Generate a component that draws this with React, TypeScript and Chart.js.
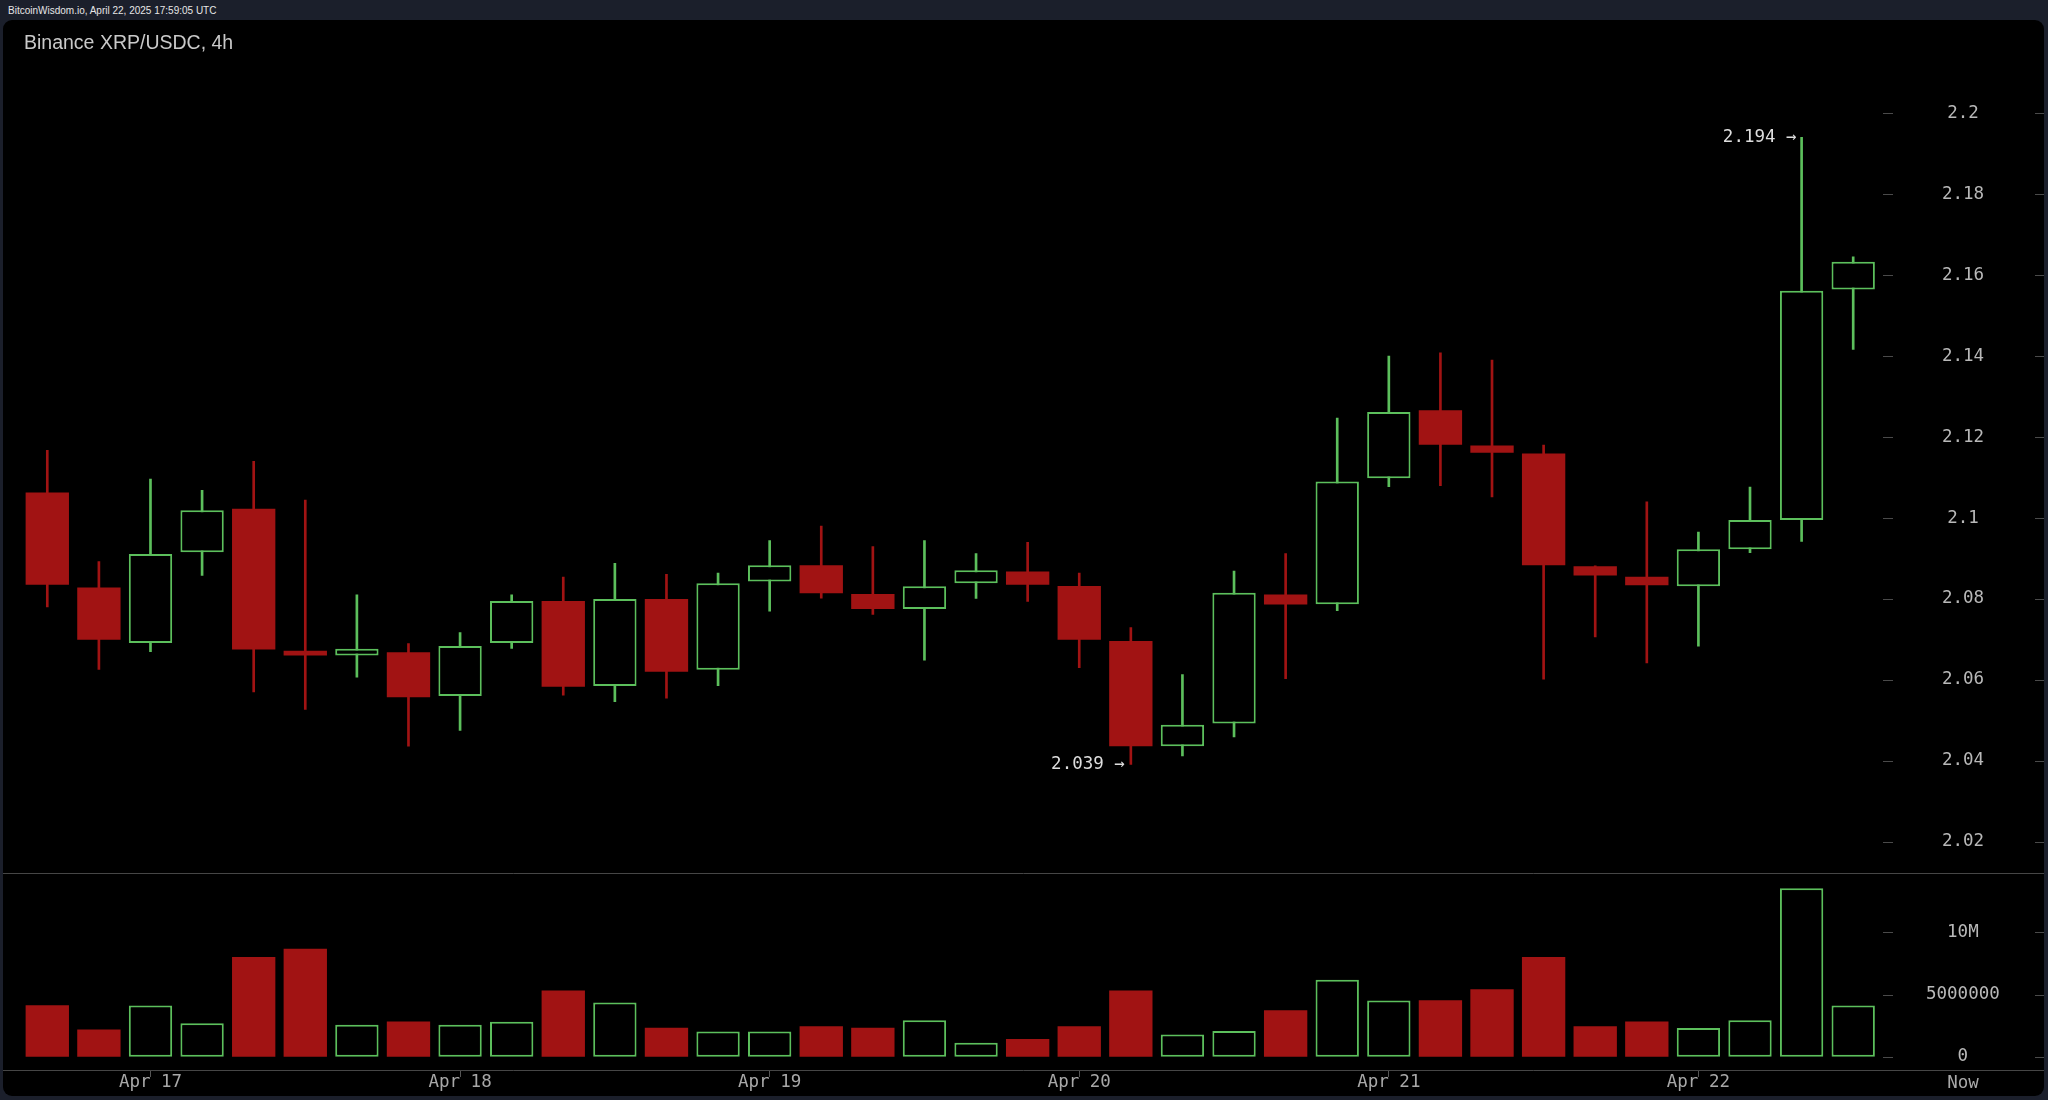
import { useEffect, useRef } from "react";
import { Chart, registerables } from "chart.js";

Chart.register(...registerables);

// 4h candles, Apr 16 16:00 .. Apr 22 16:00 (UTC)
const OPEN = [
  2.1063, 2.0828, 2.0691, 2.0915, 2.1023, 2.0672, 2.066, 2.0668, 2.056, 2.0691,
  2.0795, 2.0585, 2.08, 2.0625, 2.0843, 2.0883, 2.0812, 2.0775, 2.0839, 2.0868,
  2.0832, 2.0696, 2.0436, 2.0492, 2.0811, 2.0787, 2.1098, 2.1266, 2.1179, 2.1159,
  2.0881, 2.0855, 2.0831, 2.0923, 2.0995, 2.1564,
];
const HIGH = [
  2.1167, 2.0892, 2.1096, 2.1068, 2.114, 2.1044, 2.081, 2.069, 2.0717, 2.081,
  2.0854, 2.0888, 2.0861, 2.0864, 2.0944, 2.098, 2.0929, 2.0944, 2.0912, 2.094,
  2.0864, 2.0729, 2.0613, 2.0869, 2.0912, 2.1247, 2.14, 2.1408, 2.139, 2.118,
  2.0882, 2.104, 2.0965, 2.1076, 2.194, 2.1645,
];
const LOW = [
  2.078, 2.0626, 2.067, 2.0858, 2.057, 2.0527, 2.0607, 2.0436, 2.0475, 2.0678,
  2.0562, 2.0546, 2.0555, 2.0586, 2.077, 2.0802, 2.0762, 2.0649, 2.0801, 2.0794,
  2.063, 2.0391, 2.0412, 2.0459, 2.0603, 2.0771, 2.1077, 2.108, 2.1052, 2.0602,
  2.0706, 2.0642, 2.0683, 2.0914, 2.0942, 2.1416,
];
const CLOSE = [
  2.0835, 2.0699, 2.0911, 2.1019, 2.0675, 2.066, 2.0677, 2.0557, 2.0684, 2.0795,
  2.0583, 2.08, 2.062, 2.0839, 2.0883, 2.0814, 2.0775, 2.0831, 2.0871, 2.0835,
  2.0699, 2.0436, 2.0489, 2.0815, 2.0786, 2.109, 2.1262, 2.1181, 2.1161, 2.0883,
  2.0858, 2.0834, 2.0923, 2.0995, 2.1561, 2.1633,
];
const VOLUME = [
  4140000, 2190000, 4120000, 2700000, 8020000, 8690000, 2570000, 2830000, 2570000, 2810000,
  5320000, 4360000, 2330000, 2030000, 2030000, 2460000, 2330000, 2940000, 1120000, 1420000,
  2460000, 5320000, 1790000, 2060000, 3740000, 6200000, 4520000, 4550000, 5430000, 8020000,
  2460000, 2830000, 2300000, 2940000, 13560000, 4120000,
];

const PRICE_TICKS = [2.02, 2.04, 2.06, 2.08, 2.1, 2.12, 2.14, 2.16, 2.18, 2.2];
const PRICE_TICK_LABELS = ["2.02", "2.04", "2.06", "2.08", "2.1", "2.12", "2.14", "2.16", "2.18", "2.2"];
const VOLUME_TICKS = [0, 5000000, 10000000];
const VOLUME_TICK_LABELS = ["0", "5000000", "10M"];
const DAY_INDEX = [2, 8, 14, 20, 26, 32];
const DAY_LABELS = ["Apr 17", "Apr 18", "Apr 19", "Apr 20", "Apr 21", "Apr 22"];

const UP = "#5cbf5c";
const DOWN = "#a11313";
const MONO = "'DejaVu Sans Mono', monospace";
const SANS = "'Liberation Sans', Arial, sans-serif";

const PANEL_W = 2041;
const PRICE_H = 853;
const VOL_H = 223;
const AXIS_W = 165;
const PLOT_LEFT = 18.5;
const LABEL_CX = 84; // plot edge -> centre of the axis label column

const idx = OPEN.map((_, i) => i);
const up = idx.map((i) => CLOSE[i] >= OPEN[i]);
const colors = idx.map((i) => (up[i] ? UP : DOWN));

const axisDashes = {
  id: "axisDashes",
  afterDraw(chart: any) {
    const { ctx, chartArea, scales } = chart;
    const y = scales.y;
    ctx.save();
    ctx.strokeStyle = "#4a4a4a";
    ctx.lineWidth = 1;
    y.ticks.forEach((t: any) => {
      const py = Math.round(y.getPixelForValue(t.value)) + 0.5;
      ctx.beginPath();
      ctx.moveTo(chartArea.right + 4, py);
      ctx.lineTo(chartArea.right + 14, py);
      ctx.moveTo(chart.width - 9, py);
      ctx.lineTo(chart.width, py);
      ctx.stroke();
    });
    ctx.restore();
  },
};

const extremes = {
  id: "extremes",
  afterDatasetsDraw(chart: any) {
    const { ctx, scales } = chart;
    const hi = HIGH.indexOf(Math.max(...HIGH));
    const lo = LOW.indexOf(Math.min(...LOW));
    ctx.save();
    ctx.font = `17.5px ${MONO}`;
    ctx.fillStyle = "#dedede";
    ctx.textAlign = "right";
    ctx.textBaseline = "middle";
    ctx.fillText(`${HIGH[hi].toFixed(3)} →`, scales.x.getPixelForValue(hi) - 5, scales.y.getPixelForValue(HIGH[hi]));
    ctx.fillText(`${LOW[lo].toFixed(3)} →`, scales.x.getPixelForValue(lo) - 6, scales.y.getPixelForValue(LOW[lo]));
    ctx.restore();
  },
};

const volumeFrame = {
  id: "volumeFrame",
  afterDraw(chart: any) {
    const { ctx, chartArea } = chart;
    ctx.save();
    ctx.strokeStyle = "#464646";
    ctx.lineWidth = 1;
    ctx.beginPath();
    ctx.moveTo(0, 0.5);
    ctx.lineTo(chart.width, 0.5);
    const by = Math.round(chartArea.bottom) + 0.5;
    ctx.moveTo(0, by);
    ctx.lineTo(chart.width, by);
    ctx.stroke();
    ctx.font = `17.5px ${MONO}`;
    ctx.fillStyle = "#a8a8a8";
    ctx.textAlign = "center";
    ctx.textBaseline = "middle";
    ctx.fillText("Now", chartArea.right + LABEL_CX, chartArea.bottom + 13);
    ctx.restore();
  },
};

const fixY = (s: any) => {
  s.width = AXIS_W;
  s.paddingTop = 0;
  s.paddingBottom = 0;
};

export default function App() {
  const priceRef = useRef<HTMLCanvasElement>(null);
  const volRef = useRef<HTMLCanvasElement>(null);

  useEffect(() => {
    if (!priceRef.current || !volRef.current) return;

    const price = new Chart(priceRef.current, {
      type: "bar",
      data: {
        datasets: [
          {
            // wicks
            data: idx.map((i) => ({ x: i, y: [LOW[i], HIGH[i]] })) as any,
            backgroundColor: colors,
            borderWidth: 0,
            barThickness: 2,
            grouped: false,
            order: 2,
          },
          {
            // bodies
            data: idx.map((i) => ({ x: i, y: [OPEN[i], CLOSE[i]] })) as any,
            backgroundColor: idx.map((i) => (up[i] ? "#000" : DOWN)),
            borderColor: colors,
            borderWidth: idx.map((i) => (up[i] ? 2 : 0)),
            borderSkipped: false,
            categoryPercentage: 1,
            barPercentage: 0.84,
            grouped: false,
            order: 1,
          },
        ],
      },
      options: {
        responsive: false,
        animation: false,
        events: [],
        layout: { padding: { left: PLOT_LEFT, right: 0, top: 0, bottom: 0 } },
        plugins: { legend: { display: false }, tooltip: { enabled: false } },
        scales: {
          x: {
            type: "linear",
            min: -0.5,
            max: idx.length - 0.5,
            offset: false,
            grid: { offset: false },
            display: false,
          },
          y: {
            position: "right",
            min: 2.0123,
            max: 2.223,
            grid: { display: false, drawTicks: false },
            border: { display: false },
            afterBuildTicks: (s: any) => {
              s.ticks = PRICE_TICKS.map((v) => ({ value: v }));
            },
            afterFit: fixY,
            ticks: {
              crossAlign: "center",
              padding: 63,
              color: "#b8b8b8",
              font: { family: MONO, size: 17.5 },
              callback: (_v: any, i: number) => PRICE_TICK_LABELS[i],
            },
          },
        },
      },
      plugins: [axisDashes, extremes],
    });

    const volume = new Chart(volRef.current, {
      type: "bar",
      data: {
        datasets: [
          {
            data: idx.map((i) => ({ x: i, y: VOLUME[i] })) as any,
            backgroundColor: idx.map((i) => (up[i] ? "#000" : DOWN)),
            borderColor: colors,
            borderWidth: idx.map((i) => (up[i] ? 2 : 0)),
            borderSkipped: false,
            categoryPercentage: 1,
            barPercentage: 0.84,
          },
        ],
      },
      options: {
        responsive: false,
        animation: false,
        events: [],
        layout: { padding: { left: PLOT_LEFT, right: 0, top: 1, bottom: 0 } },
        plugins: { legend: { display: false }, tooltip: { enabled: false } },
        scales: {
          x: {
            type: "linear",
            min: -0.5,
            max: idx.length - 0.5,
            offset: false,
            grid: { offset: false, drawOnChartArea: false, tickLength: 7, color: "#555" },
            border: { display: false },
            afterBuildTicks: (s: any) => {
              s.ticks = DAY_INDEX.map((v) => ({ value: v }));
            },
            afterFit: (s: any) => {
              s.height = 26;
              s.paddingLeft = 0;
              s.paddingRight = 0;
            },
            ticks: {
              autoSkip: false,
              maxRotation: 0,
              padding: -3,
              color: "#a8a8a8",
              font: { family: MONO, size: 17.5, lineHeight: 1 },
              callback: (_v: any, i: number) => DAY_LABELS[i],
            },
          },
          y: {
            position: "right",
            min: -1070000,
            max: 14700000,
            grid: { display: false, drawTicks: false },
            border: { display: false },
            afterBuildTicks: (s: any) => {
              s.ticks = VOLUME_TICKS.map((v) => ({ value: v }));
            },
            afterFit: fixY,
            ticks: {
              crossAlign: "center",
              padding: 47,
              color: "#b8b8b8",
              font: { family: MONO, size: 17.5 },
              callback: (_v: any, i: number) => VOLUME_TICK_LABELS[i],
            },
          },
        },
      },
      plugins: [axisDashes, volumeFrame],
    });

    return () => {
      price.destroy();
      volume.destroy();
    };
  }, []);

  return (
    <div
      style={{
        position: "absolute",
        left: 0,
        top: 0,
        width: 2048,
        height: 1100,
        background: "#1b1f2b",
        overflow: "hidden",
      }}
    >
      <div
        style={{
          position: "absolute",
          left: 8,
          top: 0,
          font: `10px ${SANS}`,
          lineHeight: "21px",
          color: "#e6e6e6",
          whiteSpace: "nowrap",
        }}
      >
        BitcoinWisdom.io, April 22, 2025 17:59:05 UTC
      </div>
      <div
        style={{
          position: "absolute",
          left: 3,
          top: 20,
          width: PANEL_W,
          height: 1076,
          background: "#000",
          borderRadius: 9,
          overflow: "hidden",
        }}
      >
        <canvas ref={priceRef} width={PANEL_W} height={PRICE_H} style={{ position: "absolute", left: 0, top: 0 }} />
        <canvas ref={volRef} width={PANEL_W} height={VOL_H} style={{ position: "absolute", left: 0, top: PRICE_H }} />
        <div
          style={{
            position: "absolute",
            left: 21,
            top: 12,
            font: `19.5px ${SANS}`,
            lineHeight: "20px",
            color: "#c9c9c9",
            whiteSpace: "nowrap",
          }}
        >
          Binance XRP/USDC, 4h
        </div>
      </div>
    </div>
  );
}
